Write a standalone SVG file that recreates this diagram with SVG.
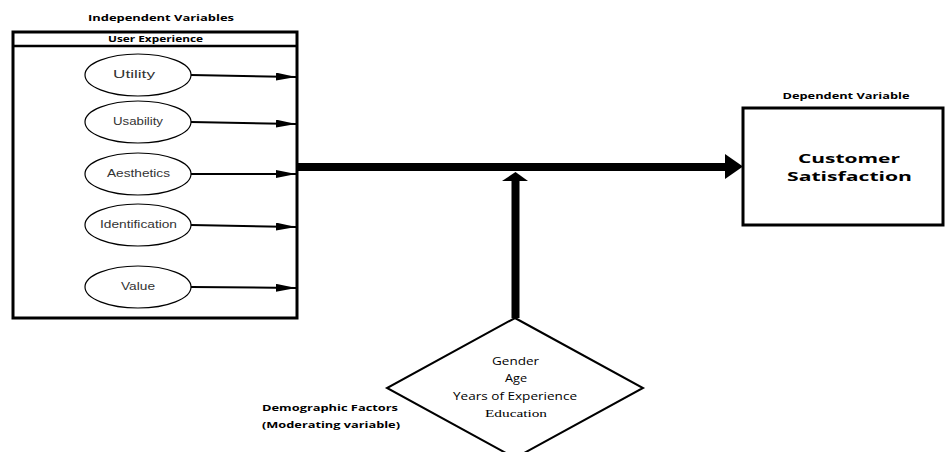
<svg xmlns="http://www.w3.org/2000/svg" width="945" height="452" viewBox="0 0 945 452">
<style>
.lbl{font-family:"Open Sans","Liberation Sans",sans-serif;font-weight:bold;fill:#000;text-anchor:middle}
.ell{fill:#fff;stroke:#000;stroke-width:1.2}
.et{font-family:"Liberation Sans",Arial,sans-serif;font-size:10px;fill:#333;text-anchor:middle}
.dt{font-family:"Open Sans","Liberation Sans",sans-serif;font-size:10px;fill:#000;text-anchor:middle}
.sf{font-family:"Liberation Serif","Times New Roman",serif;font-size:11px;fill:#000;text-anchor:middle}
.thin{stroke:#000;stroke-width:2;fill:none;marker-end:url(#ah)}
</style>
<defs>
<marker id="ah" markerUnits="userSpaceOnUse" markerWidth="20" markerHeight="8" refX="20" refY="4" orient="auto">
<path d="M0,0 L20,4 L0,8 Z" fill="#000"/>
</marker>
</defs>
<rect width="945" height="452" fill="#fff"/>
<text class="lbl" x="161" y="21" font-size="9.5" textLength="146" lengthAdjust="spacingAndGlyphs">Independent Variables</text>
<g id="user-experience">
<rect x="13" y="32" width="284" height="286" fill="#fff" stroke="#000" stroke-width="3"/>
<line x1="13" y1="46" x2="297" y2="46" stroke="#000" stroke-width="2.5"/>
<text class="lbl" x="155.5" y="42" font-size="9" textLength="95" lengthAdjust="spacingAndGlyphs">User Experience</text>
</g>
<g id="utility"><ellipse class="ell" cx="138" cy="75" rx="53" ry="21"/><text class="et" x="134" y="78" textLength="42" lengthAdjust="spacingAndGlyphs">Utility</text></g>
<g id="usability"><ellipse class="ell" cx="138" cy="122" rx="53" ry="21"/><text class="et" x="138" y="125" textLength="50" lengthAdjust="spacingAndGlyphs">Usability</text></g>
<g id="aesthetics"><ellipse class="ell" cx="138" cy="174" rx="53" ry="21"/><text class="et" x="138.5" y="177" textLength="63" lengthAdjust="spacingAndGlyphs">Aesthetics</text></g>
<g id="identification"><ellipse class="ell" cx="138" cy="225" rx="53" ry="21"/><text class="et" x="138.5" y="228" textLength="77" lengthAdjust="spacingAndGlyphs">Identification</text></g>
<g id="value"><ellipse class="ell" cx="138" cy="287" rx="53" ry="21"/><text class="et" x="138" y="290" textLength="34" lengthAdjust="spacingAndGlyphs">Value</text></g>
<text class="lbl" x="846" y="99" font-size="9.5" textLength="127" lengthAdjust="spacingAndGlyphs">Dependent Variable</text>
<g id="customer-satisfaction">
<rect x="743" y="108" width="200" height="117" fill="#fff" stroke="#000" stroke-width="3"/>
<text class="lbl" x="849" y="163" font-size="13" textLength="102" lengthAdjust="spacingAndGlyphs">Customer</text>
<text class="lbl" x="849.5" y="181" font-size="13" textLength="125" lengthAdjust="spacingAndGlyphs">Satisfaction</text>
</g>
<g id="demographic-factors">
<polygon points="515,318 643,388 515,458 387,388" fill="#fff" stroke="#000" stroke-width="2"/>
<text class="dt" x="515.5" y="365" textLength="47" lengthAdjust="spacingAndGlyphs">Gender</text>
<text class="dt" x="516" y="382" textLength="22" lengthAdjust="spacingAndGlyphs">Age</text>
<text class="dt" x="515" y="400" textLength="124" lengthAdjust="spacingAndGlyphs">Years of Experience</text>
<text class="sf" x="516" y="417" textLength="62" lengthAdjust="spacingAndGlyphs">Education</text>
<text class="lbl" x="330" y="411" font-size="9.5" textLength="136" lengthAdjust="spacingAndGlyphs">Demographic Factors</text>
<text class="lbl" x="331" y="428" font-size="9.5" textLength="138" lengthAdjust="spacingAndGlyphs">(Moderating variable)</text>
</g>
<g id="connectors">
<path class="thin" d="M191,75 L296,77"/>
<path class="thin" d="M191,122 L296,124"/>
<path class="thin" d="M191,174 L296,174"/>
<path class="thin" d="M191,225 L296,227"/>
<path class="thin" d="M191,287 L296,288"/>
<line x1="297" y1="167" x2="727" y2="167" stroke="#000" stroke-width="8"/>
<polygon points="725,154 743,166.5 725,179" fill="#000"/>
<line x1="515.5" y1="318" x2="515.5" y2="180" stroke="#000" stroke-width="8"/>
<polygon points="502,181 515.5,172 528,181" fill="#000"/>
</g>
</svg>
